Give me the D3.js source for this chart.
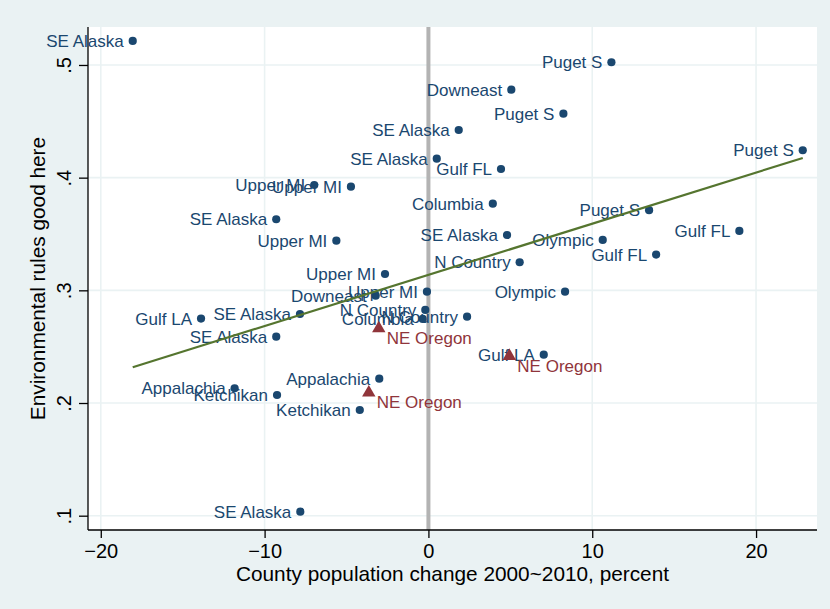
<!DOCTYPE html>
<html>
<head>
<meta charset="utf-8">
<script src="https://cdn.jsdelivr.net/npm/d3@7"></script>
<style>
  html, body { margin: 0; padding: 0; background: #eaf2f3; }
  svg { display: block; }
  text { font-family: "Liberation Sans", Arial, Helvetica, sans-serif; }
</style>
</head>
<body>
<svg id="chart" width="830" height="609"></svg>
<script>
// ---- data ----
const regionLabels = ["SE Alaska","Puget S","Downeast","Puget S","SE Alaska","SE Alaska","Gulf FL","Upper MI","Upper MI","Columbia",
  "Puget S","Puget S","Gulf FL","Gulf FL","Olympic","SE Alaska","Upper MI","SE Alaska","N Country","Olympic",
  "Upper MI","Upper MI","Downeast","N Country","Columbia","N Country","SE Alaska","Gulf LA","SE Alaska","Gulf LA",
  "Appalachia","Ketchikan","Appalachia","Ketchikan","SE Alaska"];
const popChange = [-18.05,11.17,5.06,8.24,1.85,0.51,4.43,-4.73,-6.97,3.93,
  13.47,22.85,18.98,13.90,10.64,-9.29,-5.62,4.80,5.57,8.34,
  -2.65,-0.09,-3.22,-0.19,-0.35,2.36,-7.84,-13.88,-9.29,7.04,
  -3.00,-4.19,-11.83,-9.24,-7.82];
const envRules = [0.5213,0.5024,0.4781,0.4568,0.4423,0.4168,0.4077,0.3920,0.3935,0.3769,
  0.3711,0.4243,0.3527,0.3317,0.3447,0.3631,0.3441,0.3491,0.3249,0.2988,
  0.3145,0.2988,0.2953,0.2826,0.2746,0.2766,0.2790,0.2749,0.2589,0.2429,
  0.2216,0.1938,0.2131,0.2071,0.1036];

const oregonLabels = ["NE Oregon","NE Oregon","NE Oregon"];
const oregonChange = [-3.03, 4.94, -3.64];
const oregonRules = [0.2662, 0.2417, 0.2092];

const fitX = [-18.05, 22.85];
const fitY = [0.2318, 0.4175];

const xTicks = [-20, -10, 0, 10, 20];
const xTickLabels = ["\u221220", "\u221210", "0", "10", "20"];
const yTicks = [0.1, 0.2, 0.3, 0.4, 0.5];
const yTickLabels = [".1", ".2", ".3", ".4", ".5"];

const xTitle = "County population change 2000~2010, percent";
const yTitle = "Environmental rules good here";

// ---- layout ----
const W = 830, H = 609;
const L = 88, R = 817, T = 27, B = 530;
const svg = d3.select("#chart");

const x = d3.scaleLinear().domain([-20.78, 23.72]).range([L, R]);
const y = d3.scaleLinear().domain([0.0873, 0.5337]).range([B, T]);

svg.append("rect").attr("x", 0).attr("y", 0).attr("width", W).attr("height", H).attr("fill", "#eaf2f3");
svg.append("rect").attr("x", L).attr("y", T).attr("width", R - L).attr("height", B - T).attr("fill", "#ffffff");

// gridlines
const grid = svg.append("g");
grid.selectAll("line.gx").data(xTicks.filter(d => d !== 0)).join("line")
  .attr("x1", d => x(d)).attr("x2", d => x(d)).attr("y1", T).attr("y2", B)
  .attr("stroke", "#eaf2f3").attr("stroke-width", 1.6);
grid.selectAll("line.gy").data(yTicks).join("line")
  .attr("x1", L).attr("x2", R).attr("y1", d => y(d)).attr("y2", d => y(d))
  .attr("stroke", "#eaf2f3").attr("stroke-width", 1.6);

// reference line at 0
svg.append("line").attr("x1", x(0)).attr("x2", x(0)).attr("y1", T).attr("y2", B)
  .attr("stroke", "#b3b3b3").attr("stroke-width", 4);

// axes
const xAxis = d3.axisBottom(x).tickValues(xTicks).tickFormat((d, i) => xTickLabels[i]).tickSize(8).tickSizeOuter(0).tickPadding(2);
const gx = svg.append("g").attr("transform", `translate(0,${B})`).call(xAxis);
gx.select(".domain").attr("stroke", "#000").attr("stroke-width", 1.3).attr("d", `M${L},0H${R}`);
gx.selectAll(".tick line").attr("stroke", "#000").attr("stroke-width", 1.3);
gx.selectAll(".tick text").attr("font-size", "20px").attr("fill", "#000")
  .attr("y", 27.5).attr("dy", null).attr("font-family", "Liberation Sans, Arial, sans-serif");

const yAxis = d3.axisLeft(y).tickValues(yTicks).tickFormat((d, i) => yTickLabels[i]).tickSize(9).tickSizeOuter(0);
const gy = svg.append("g").attr("transform", `translate(${L},0)`).call(yAxis);
gy.select(".domain").attr("stroke", "#000").attr("stroke-width", 1.3).attr("d", `M0,${T}V${B}`);
gy.selectAll(".tick line").attr("stroke", "#000").attr("stroke-width", 1.3);
gy.selectAll(".tick text")
  .attr("font-size", "20px").attr("fill", "#000")
  .attr("x", null).attr("dy", null).attr("text-anchor", "middle")
  .attr("transform", "translate(-17,0) rotate(-90)")
  .attr("font-family", "Liberation Sans, Arial, sans-serif");

// titles
svg.append("text").attr("x", (L + R) / 2).attr("y", 580.5).attr("text-anchor", "middle")
  .attr("font-size", "20.8px").attr("fill", "#000").text(xTitle);
svg.append("text").attr("transform", `translate(45,${(T + B) / 2}) rotate(-90)`).attr("text-anchor", "middle")
  .attr("font-size", "20.8px").attr("fill", "#000").text(yTitle);

// main scatter
const pts = regionLabels.map((lab, i) => ({ lab, x: popChange[i], y: envRules[i] }));
const gp = svg.append("g");
gp.selectAll("circle").data(pts).join("circle")
  .attr("cx", d => x(d.x)).attr("cy", d => y(d.y)).attr("r", 4.1).attr("fill", "#1a476f");
gp.selectAll("text").data(pts).join("text")
  .attr("x", d => x(d.x) - 9).attr("y", d => y(d.y) + 6)
  .attr("text-anchor", "end").attr("font-size", "17px").attr("fill", "#1a476f")
  .text(d => d.lab);

// NE Oregon scatter
const opts = oregonLabels.map((lab, i) => ({ lab, x: oregonChange[i], y: oregonRules[i] }));
const go = svg.append("g");
go.selectAll("path").data(opts).join("path")
  .attr("d", d3.symbol().type(d3.symbolTriangle).size(78))
  .attr("transform", d => `translate(${x(d.x)},${y(d.y)})`)
  .attr("fill", "#90353b");
go.selectAll("text").data(opts).join("text")
  .attr("x", d => x(d.x) + 8).attr("y", d => y(d.y) + 15.5)
  .attr("text-anchor", "start").attr("font-size", "17px").attr("fill", "#90353b")
  .text(d => d.lab);

// linear fit
svg.append("path")
  .datum(fitX.map((v, i) => [v, fitY[i]]))
  .attr("d", d3.line().x(d => x(d[0])).y(d => y(d[1])))
  .attr("fill", "none").attr("stroke", "#55752f").attr("stroke-width", 2.2);
</script>
</body>
</html>
